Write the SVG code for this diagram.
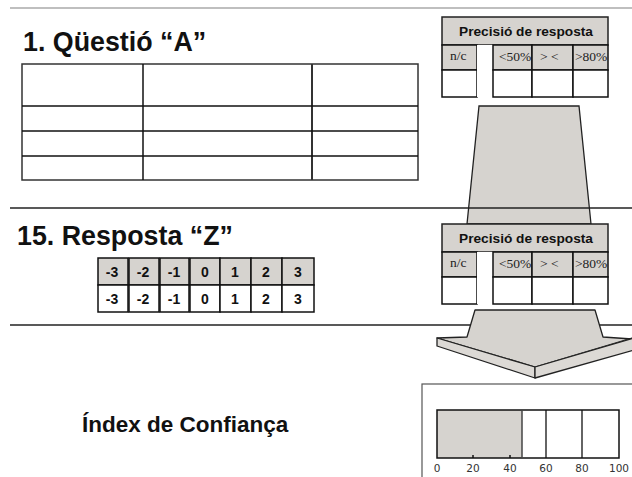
<svg xmlns="http://www.w3.org/2000/svg" width="632" height="477" viewBox="0 0 632 477">
<style>
.title{font-family:"Liberation Sans",Arial,sans-serif;font-weight:bold;fill:#111;}
.hdr{font-family:"Liberation Sans",Arial,sans-serif;font-weight:bold;font-size:13.7px;fill:#111;}
.ser{font-family:"Liberation Serif","Times New Roman",serif;font-size:13.5px;fill:#222;}
.num{font-family:"Liberation Sans",Arial,sans-serif;font-weight:bold;font-size:14px;fill:#111;text-anchor:middle;}
.ax{font-family:"DejaVu Sans",sans-serif;font-size:10.5px;fill:#333;text-anchor:middle;}
.g{fill:#d6d3cf;}
.ln{stroke:#111;stroke-width:1.5;fill:none;}
.cell{stroke:#111;stroke-width:1.5;}
</style>
<defs>
<g id="prec">
<rect x="442" y="17" width="166" height="28" class="g" stroke="#222" stroke-width="1.5"/>
<text x="526" y="36" class="hdr" text-anchor="middle">Precisió de resposta</text>
<rect x="442" y="45" width="35" height="25" class="g cell"/>
<rect x="442" y="70" width="35" height="27" fill="#fff" class="cell"/>
<rect x="477" y="45" width="16" height="52" fill="#fff" stroke="none"/>
<rect x="493" y="45" width="39" height="25" class="g cell"/>
<rect x="532" y="45" width="41" height="25" class="g cell"/>
<rect x="573" y="45" width="35" height="25" class="g cell"/>
<rect x="493" y="70" width="39" height="27" fill="#fff" class="cell"/>
<rect x="532" y="70" width="41" height="27" fill="#fff" class="cell"/>
<rect x="573" y="70" width="35" height="27" fill="#fff" class="cell"/>
<text x="450" y="60" class="ser" font-size="11px">n/c</text>
<text x="499" y="61" class="ser">&lt;50%</text>
<text x="540" y="61" class="ser">&gt; &lt;</text>
<text x="575" y="61" class="ser">&gt;80%</text>
</g>
</defs>

<g id="connectors">
<polygon points="479,106 579,106 591,224 467,224" class="g" stroke="#222" stroke-width="1.3"/>
</g>

<g id="rules">
<line x1="10" y1="8" x2="632" y2="8" stroke="#aaa" stroke-width="1.5"/>
<line x1="10" y1="208" x2="632" y2="208" stroke="#222" stroke-width="1.3"/>
<line x1="10" y1="325" x2="632" y2="325" stroke="#222" stroke-width="1.3"/>
</g>

<g id="arrow">
<polygon points="475,310 595,310 603,337 632,339 632,338 535,367 437,338 467,337" class="g" stroke="#222" stroke-width="1.3" stroke-linejoin="round"/>
<polygon points="437,338 535,367 535,378 437,346" fill="#dcd9d5" stroke="#222" stroke-width="1.3" stroke-linejoin="round"/>
<polygon points="535,367 634,338 634,350 535,378" fill="#dcd9d5" stroke="#222" stroke-width="1.3" stroke-linejoin="round"/>
</g>

<g id="question">
<text x="23" y="51" class="title" font-size="26.8px">1. Qüestió “A”</text>
<rect x="22" y="64" width="396" height="116" fill="#fff" stroke="#333" stroke-width="1.5"/>
<line x1="143" y1="64" x2="143" y2="180" class="ln"/>
<line x1="312" y1="64" x2="312" y2="180" stroke="#333" stroke-width="2"/>
<line x1="22" y1="106" x2="418" y2="106" class="ln" stroke-width="2"/>
<line x1="22" y1="131" x2="418" y2="131" class="ln"/>
<line x1="22" y1="156" x2="418" y2="156" class="ln" stroke-width="2.2"/>
</g>

<g id="precision1">
<use href="#prec"/>
</g>
<g id="precision2">
<use href="#prec" transform="translate(0,207)"/>
</g>

<g id="answer">
<text x="17" y="245" class="title" font-size="26.8px">15. Resposta “Z”</text>
<g id="scale">
<rect x="98" y="258" width="30" height="27" class="g cell"/>
<rect x="129" y="258" width="30" height="27" class="g cell"/>
<rect x="160" y="258" width="29" height="27" class="g cell"/>
<rect x="190" y="258" width="30" height="27" class="g cell"/>
<rect x="220" y="258" width="31" height="27" class="g cell"/>
<rect x="251" y="258" width="31" height="27" class="g cell"/>
<rect x="282" y="258" width="32" height="27" class="g cell"/>
<rect x="98" y="285" width="30" height="27" fill="#fff" class="cell"/>
<rect x="129" y="285" width="30" height="27" fill="#fff" class="cell"/>
<rect x="160" y="285" width="29" height="27" fill="#fff" class="cell"/>
<rect x="190" y="285" width="30" height="27" fill="#fff" class="cell"/>
<rect x="220" y="285" width="31" height="27" fill="#fff" class="cell"/>
<rect x="251" y="285" width="31" height="27" fill="#fff" class="cell"/>
<rect x="282" y="285" width="32" height="27" fill="#fff" class="cell"/>
<text x="112" y="277" class="num">-3</text>
<text x="143" y="277" class="num">-2</text>
<text x="174" y="277" class="num">-1</text>
<text x="205" y="277" class="num">0</text>
<text x="235" y="277" class="num">1</text>
<text x="266" y="277" class="num">2</text>
<text x="298" y="277" class="num">3</text>
<text x="112" y="304" class="num">-3</text>
<text x="143" y="304" class="num">-2</text>
<text x="174" y="304" class="num">-1</text>
<text x="205" y="304" class="num">0</text>
<text x="235" y="304" class="num">1</text>
<text x="266" y="304" class="num">2</text>
<text x="298" y="304" class="num">3</text>
</g>
</g>

<g id="index">
<text x="82" y="432" class="title" font-size="22.5px">Índex de Confiança</text>
</g>

<g id="chart">
<rect x="422" y="384" width="220" height="110" fill="#fff" stroke="#555" stroke-width="1.2"/>
<rect x="437" y="410" width="85" height="48" class="g"/>
<rect x="437" y="410" width="182" height="48" fill="none" stroke="#111" stroke-width="1.5"/>
<line x1="522" y1="410" x2="522" y2="458" stroke="#444" stroke-width="1.5"/>
<line x1="546" y1="410" x2="546" y2="458" stroke="#111" stroke-width="1.3"/>
<line x1="582" y1="410" x2="582" y2="458" stroke="#111" stroke-width="1.3"/>
<line x1="473" y1="455" x2="473" y2="458" stroke="#111" stroke-width="1.5"/>
<line x1="510" y1="455" x2="510" y2="458" stroke="#111" stroke-width="1.5"/>
<text x="437" y="472" class="ax">0</text>
<text x="473" y="472" class="ax">20</text>
<text x="510" y="472" class="ax">40</text>
<text x="546" y="472" class="ax">60</text>
<text x="582" y="472" class="ax">80</text>
<text x="619" y="472" class="ax">100</text>
</g>
</svg>
